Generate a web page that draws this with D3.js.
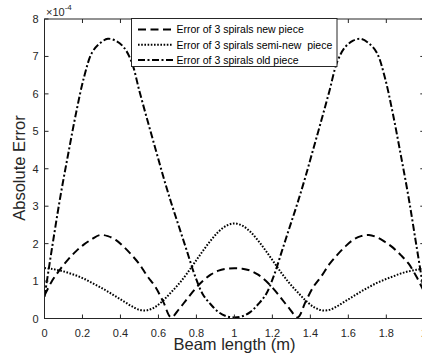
<!DOCTYPE html>
<html>
<head>
<meta charset="utf-8">
<script src="https://cdn.jsdelivr.net/npm/d3@7"></script>
<style>
	body { margin: 0; background: #fff; }
	svg { display: block; font-family: "Liberation Sans", Arial, sans-serif; }
	.tick-label { font-size: 11px; fill: #262626; }
	.ax-label { font-size: 16.5px; fill: #262626; }
	.leg-text { font-size: 10.5px; fill: #000; }
</style>
</head>
<body>
<div class="container"></div>
<script>
const width = 422, height = 356;

// beam position (m), step 1/24
const beamX = d3.range(49).map(k => k / 24);

// absolute error, units of 1e-4
const newPiece = [
	0.62, 1.02, 1.32, 1.58, 1.80, 1.98, 2.12, 2.23, 2.20, 2.10, 1.92, 1.70, 1.45,
	1.13, 0.85, 0.45, 0.03, 0.25, 0.52, 0.78, 1.00, 1.17, 1.28, 1.33, 1.34,
	1.33, 1.28, 1.17, 1.00, 0.78, 0.52, 0.25, 0.03, 0.45, 0.85, 1.13, 1.45,
	1.70, 1.92, 2.10, 2.20, 2.23, 2.17, 2.05, 1.90, 1.70, 1.47, 1.12, 0.70
];
const semiNewPiece = [
	1.35, 1.32, 1.28, 1.22, 1.15, 1.06, 0.95, 0.84, 0.72, 0.59, 0.46, 0.33, 0.23,
	0.22, 0.31, 0.48, 0.70, 0.93, 1.20, 1.50, 1.80, 2.08, 2.32, 2.48, 2.54,
	2.48, 2.32, 2.08, 1.80, 1.50, 1.20, 0.93, 0.70, 0.48, 0.31, 0.22, 0.23,
	0.33, 0.46, 0.59, 0.72, 0.84, 0.95, 1.04, 1.12, 1.20, 1.26, 1.30, 1.33
];
const oldPiece = [
	0.58, 1.95, 3.25, 4.40, 5.50, 6.45, 7.10, 7.35, 7.47, 7.42, 7.25, 6.86, 6.07,
	5.30, 4.55, 3.80, 3.10, 2.45, 1.80, 1.15, 0.65, 0.38, 0.17, 0.06, 0.03,
	0.06, 0.17, 0.38, 0.65, 1.15, 1.80, 2.45, 3.10, 3.80, 4.55, 5.30, 6.07,
	6.86, 7.25, 7.42, 7.47, 7.35, 7.10, 6.45, 5.50, 4.40, 3.25, 1.95, 0.65
];

const seriesNames = [
	'Error of 3 spirals new piece',
	'Error of 3 spirals semi-new  piece',
	'Error of 3 spirals old piece'
];
const seriesDash = ['8,4.5', '1.6,1.6', '7,2.5,2,2.5'];

const xTicks = [0, 0.2, 0.4, 0.6, 0.8, 1, 1.2, 1.4, 1.6, 1.8, 2];
const yTicks = [0, 1, 2, 3, 4, 5, 6, 7, 8];

const pLeft = 44.5, pRight = 424.3, pTop = 19, pBottom = 318.5;

const sx = d3.scaleLinear().domain([0, 2]).range([pLeft, pRight]);
const sy = d3.scaleLinear().domain([0, 8]).range([pBottom, pTop]);

let svg = d3.select('.container').append('svg')
	.attr('width', width)
	.attr('height', height);

svg.append('defs').append('clipPath')
	.attr('id', 'plot-clip')
	.append('rect')
	.attr('x', pLeft).attr('y', pTop)
	.attr('width', pRight - pLeft).attr('height', pBottom - pTop);

// curves
const line = d3.line()
	.x((d, i) => sx(beamX[i]))
	.y(d => sy(d))
	.curve(d3.curveCatmullRom.alpha(0.5));

const curves = svg.append('g').attr('clip-path', 'url(#plot-clip)');
[newPiece, semiNewPiece, oldPiece].forEach((s, i) => {
	curves.append('path')
		.attr('d', line(s))
		.attr('fill', 'none')
		.attr('stroke', '#000')
		.attr('stroke-width', 2)
		.attr('stroke-dasharray', seriesDash[i]);
});

// axes, ticks pointing inward
const axisColor = '#262626';
const tl = 4;

let ax = svg.append('g')
	.attr('stroke', axisColor)
	.attr('stroke-width', 1)
	.attr('fill', 'none');

ax.append('rect')
	.attr('x', pLeft).attr('y', pTop)
	.attr('width', pRight - pLeft).attr('height', pBottom - pTop);

xTicks.forEach(t => {
	ax.append('line').attr('x1', sx(t)).attr('x2', sx(t)).attr('y1', pBottom).attr('y2', pBottom - tl);
	ax.append('line').attr('x1', sx(t)).attr('x2', sx(t)).attr('y1', pTop).attr('y2', pTop + tl);
});
yTicks.forEach(t => {
	ax.append('line').attr('x1', pLeft).attr('x2', pLeft + tl).attr('y1', sy(t)).attr('y2', sy(t));
	ax.append('line').attr('x1', pRight).attr('x2', pRight - tl).attr('y1', sy(t)).attr('y2', sy(t));
});

svg.append('g').selectAll('text')
	.data(xTicks)
	.join('text')
	.attr('class', 'tick-label')
	.attr('text-anchor', 'middle')
	.attr('x', d => sx(d))
	.attr('y', 336.5)
	.text(d => d);

svg.append('g').selectAll('text')
	.data(yTicks)
	.join('text')
	.attr('class', 'tick-label')
	.attr('text-anchor', 'end')
	.attr('x', 38.5)
	.attr('y', d => sy(d) + 4)
	.text(d => d);

// exponent
let ex = svg.append('text')
	.attr('class', 'tick-label')
	.attr('x', 46)
	.attr('y', 15.5);
ex.append('tspan').text('\u00d710');
ex.append('tspan').attr('dy', -6).style('font-size', '8px').text('-4');

// axis labels
svg.append('text')
	.attr('class', 'ax-label')
	.attr('text-anchor', 'middle')
	.attr('x', 234.5)
	.attr('y', 349.5)
	.text('Beam length (m)');

svg.append('text')
	.attr('class', 'ax-label')
	.attr('text-anchor', 'middle')
	.attr('transform', 'translate(25,168) rotate(-90)')
	.text('Absolute Error');

// legend
let leg = svg.append('g');
leg.append('rect')
	.attr('x', 131.5).attr('y', 18.5)
	.attr('width', 205.5).attr('height', 48)
	.attr('fill', '#fff')
	.attr('stroke', axisColor)
	.attr('stroke-width', 1);

seriesNames.forEach((name, i) => {
	const y = 29.5 + i * 15.3;
	leg.append('line')
		.attr('x1', 138).attr('x2', 173)
		.attr('y1', y).attr('y2', y)
		.attr('stroke', '#000')
		.attr('stroke-width', 2)
		.attr('stroke-dasharray', seriesDash[i]);
	leg.append('text')
		.attr('class', 'leg-text')
		.attr('x', 176.5)
		.attr('y', y + 3.7)
		.style('white-space', 'pre')
		.text(name);
});
</script>
</body>
</html>
